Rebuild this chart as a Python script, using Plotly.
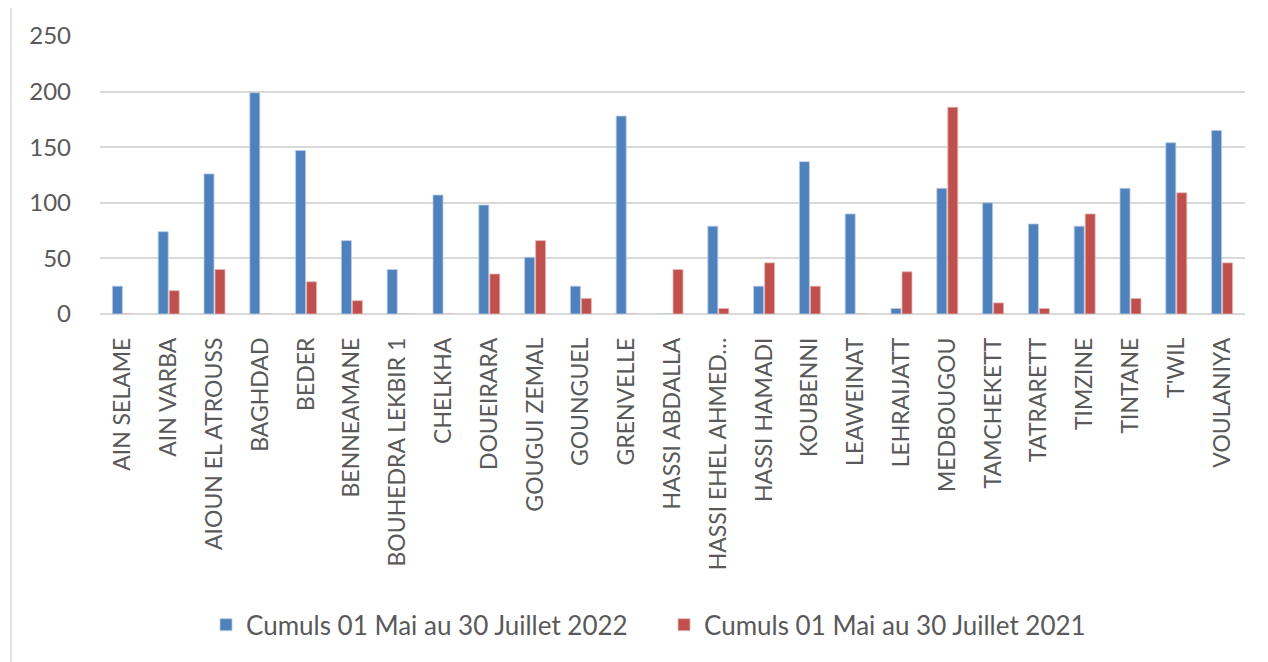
import plotly.graph_objects as go

categories = ["AIN SELAME", "AIN VARBA", "AIOUN EL ATROUSS", "BAGHDAD", "BEDER", "BENNEAMANE",
              "BOUHEDRA LEKBIR 1", "CHELKHA", "DOUEIRARA", "GOUGUI ZEMAL", "GOUNGUEL", "GRENVELLE",
              "HASSI ABDALLA", "HASSI EHEL AHMED…", "HASSI HAMADI", "KOUBENNI", "LEAWEINAT",
              "LEHRAIJATT", "MEDBOUGOU", "TAMCHEKETT", "TATRARETT", "TIMZINE", "TINTANE", "T'WIL",
              "VOULANIYA"]
cumul_2022 = [25, 74, 126, 199, 147, 66, 40, 107, 98, 51, 25, 178,
              0, 79, 25, 137, 90, 5, 113, 100, 81, 79, 113, 154, 165]
cumul_2021 = [0, 21, 40, 0, 29, 12, 0, 0, 36, 66, 14, 0,
              40, 5, 46, 25, 0, 38, 186, 10, 5, 90, 14, 109, 46]
series_names = ["Cumuls 01 Mai au 30 Juillet 2022", "Cumuls 01 Mai au 30 Juillet 2021"]
y_ticks = [0, 50, 100, 150, 200, 250]

fig = go.Figure()
fig.add_trace(go.Bar(x=categories, y=cumul_2022, name=series_names[0],
                     marker=dict(color="#4F81BD", line=dict(color="#B9CDE5", width=0.8))))
fig.add_trace(go.Bar(x=categories, y=cumul_2021, name=series_names[1],
                     marker=dict(color="#C0504D", line=dict(color="#E6B9B8", width=0.8))))

FONT = "Lato, Open Sans, sans-serif"
fig.update_layout(
    width=1268, height=662,
    margin=dict(l=92, r=31, t=26, b=356),
    barmode="group", bargap=0.52, bargroupgap=0.09,
    plot_bgcolor="white", paper_bgcolor="white",
    showlegend=True,
    legend=dict(orientation="h", x=0.0926, xanchor="left", y=-1.118, yanchor="middle",
                font=dict(family=FONT, size=26, color="#595959"),
                itemwidth=30, tracegroupgap=0, entrywidth=413, entrywidthmode="pixels"),
    xaxis=dict(tickangle=-90, tickfont=dict(family=FONT, size=23, color="#595959"),
               showgrid=False, showline=False, ticks="", ticklabelstandoff=18),
    yaxis=dict(range=[0, 250], tickvals=y_ticks, showgrid=True, gridcolor="#D9D9D9", gridwidth=1.5,
               zeroline=True, zerolinecolor="#D9D9D9", zerolinewidth=1.5,
               tickfont=dict(family=FONT, size=24, color="#595959"),
               ticks="", ticklabelstandoff=28),
    shapes=[dict(type="line", xref="paper", yref="paper", x0=-0.0777, x1=-0.0777, y0=-1.5, y1=1.5,
                 line=dict(color="#D9D9D9", width=1.5))],
)

fig.write_html("out.html")
